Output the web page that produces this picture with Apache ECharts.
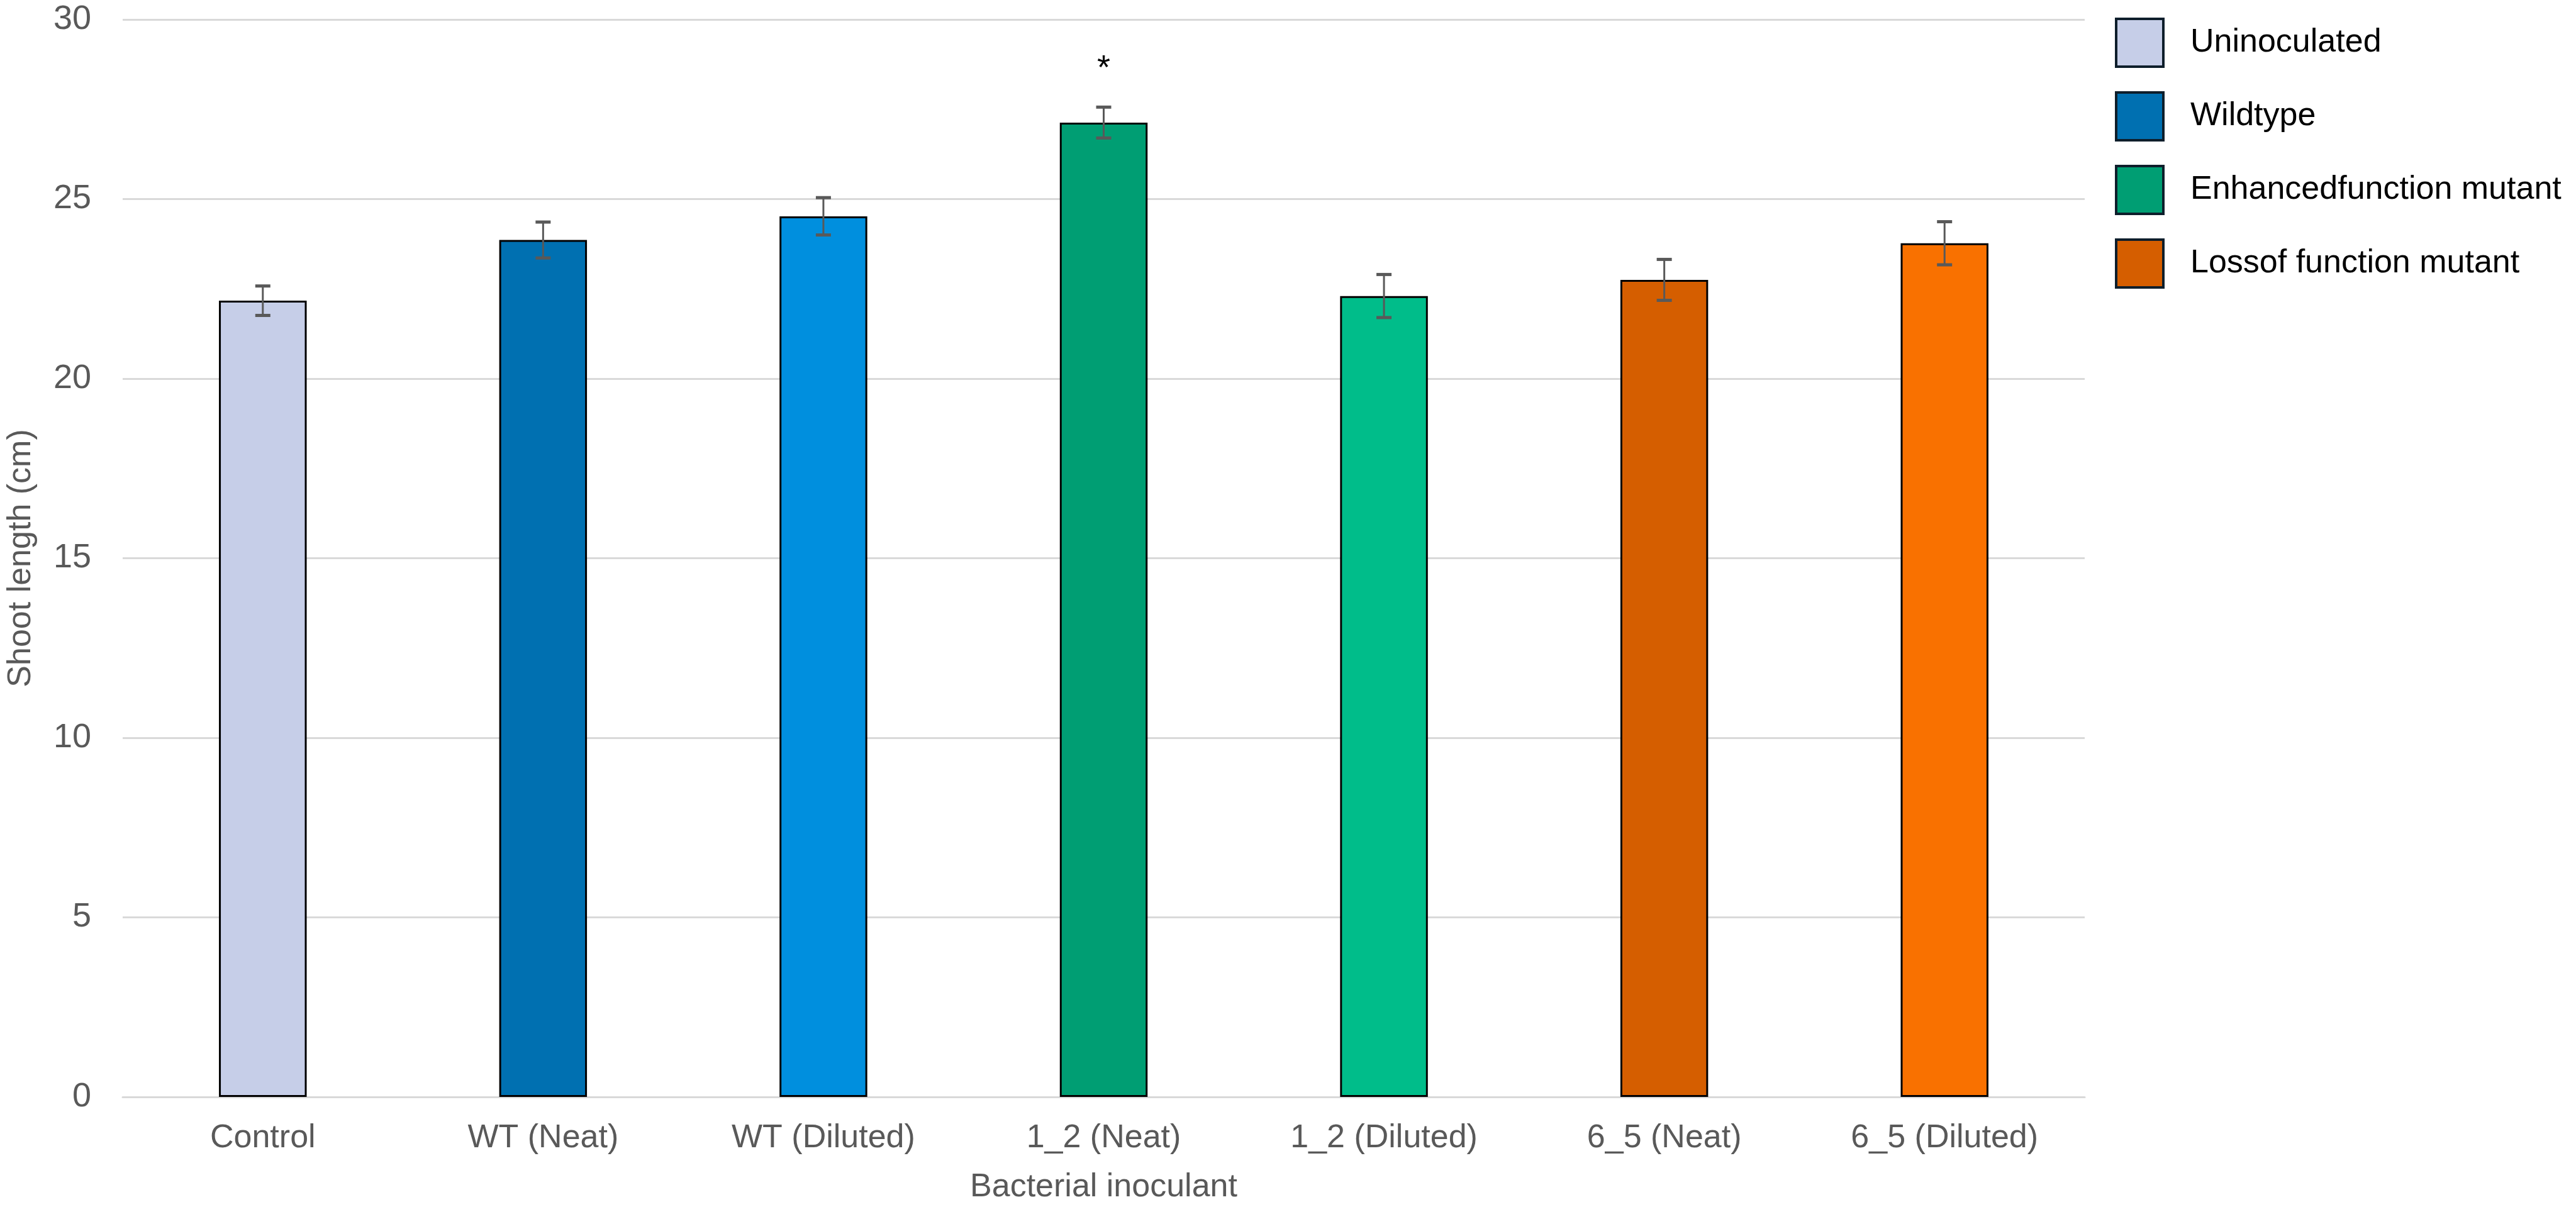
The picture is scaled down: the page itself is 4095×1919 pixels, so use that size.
<!DOCTYPE html>
<html>
<head>
<meta charset="utf-8">
<title>Shoot length by bacterial inoculant</title>
<script src="https://cdn.jsdelivr.net/npm/echarts@6/dist/echarts.min.js"></script>
<style>
  html, body { margin: 0; padding: 0; background: #fff; }
  #chart { width: 4095px; height: 1919px; }
</style>
</head>
<body>
<div id="chart"></div>
<script>
// data
const categories = ['Control', 'WT (Neat)', 'WT (Diluted)', '1_2 (Neat)', '1_2 (Diluted)', '6_5 (Neat)', '6_5 (Diluted)']
const shootLength = [22.17, 23.86, 24.52, 27.13, 22.30, 22.75, 23.77]
const stdError = [0.41, 0.50, 0.52, 0.43, 0.60, 0.57, 0.60]
const significant = [0, 0, 0, 1, 0, 0, 0]
const groupOf = [0, 1, 1, 2, 2, 3, 3]
const groupNames = ['Uninoculated', 'Wildtype', 'Enhancedfunction mutant', 'Lossof function mutant']
const groupColors = ['#C6CEE8', '#0070B1', '#009E73', '#D55E00']
const barColors = ['#C6CEE8', '#0070B1', '#008FDE', '#009E73', '#00BD8A', '#D55E00', '#F97100']
const yTicks = { min: 0, max: 30, interval: 5 }

const FONT = '"Liberation Sans", Arial, sans-serif'
const GREY = '#595959'

const chart = echarts.init(document.getElementById('chart'))

// one series per legend group, all drawn on the same slot
const barSeries = groupNames.map((name, g) => ({
    name: name,
    type: 'bar',
    barWidth: '31.3%',
    barGap: '-100%',
    itemStyle: { color: groupColors[g], borderColor: '#000', borderWidth: 3 },
    data: shootLength.map((v, i) => groupOf[i] === g
        ? { value: v, itemStyle: { color: barColors[i] } }
        : '-')
}))

const errorSeries = {
    name: 'error',
    type: 'custom',
    z: 10,
    data: shootLength.map((v, i) => [i, v - stdError[i], v + stdError[i], significant[i]]),
    renderItem: function (params, api) {
        const lo = api.coord([api.value(0), api.value(1)])
        const hi = api.coord([api.value(0), api.value(2)])
        const cap = 12
        const style = { stroke: GREY, lineWidth: 3 }
        const children = [
            { type: 'line', shape: { x1: hi[0], y1: hi[1], x2: lo[0], y2: lo[1] }, style: style },
            { type: 'line', shape: { x1: hi[0] - cap, y1: hi[1], x2: hi[0] + cap, y2: hi[1] }, style: { stroke: GREY, lineWidth: 5 } },
            { type: 'line', shape: { x1: lo[0] - cap, y1: lo[1], x2: lo[0] + cap, y2: lo[1] }, style: { stroke: GREY, lineWidth: 5 } }
        ]
        if (api.value(3)) {
            children.push({
                type: 'text',
                style: {
                    text: '*', x: hi[0], y: hi[1] - 60,
                    fill: '#000', font: '54px ' + FONT,
                    align: 'center', verticalAlign: 'middle'
                }
            })
        }
        return { type: 'group', children: children }
    }
}

chart.setOption({
    backgroundColor: '#fff',
    animation: false,
    textStyle: { fontFamily: FONT },
    grid: { left: 184, right: 781, top: 31, bottom: 171 },
    legend: {
        data: groupNames,
        orient: 'vertical',
        left: 3362,
        top: 28,
        padding: 0,
        itemWidth: 75,
        itemHeight: 76,
        itemGap: 37,
        icon: 'rect',
        itemStyle: { borderColor: '#0E1E2B', borderWidth: 4 },
        textStyle: { fontSize: 52, color: '#000', fontFamily: FONT, padding: [0, 0, 0, 38] }
    },
    xAxis: {
        type: 'category',
        data: categories,
        name: 'Bacterial inoculant',
        nameLocation: 'middle',
        nameGap: 118,
        nameTextStyle: { fontSize: 52, color: GREY, fontFamily: FONT },
        axisLine: { lineStyle: { color: '#D9D9D9', width: 3 } },
        axisTick: { show: false },
        axisLabel: { fontSize: 52, color: GREY, margin: 40, fontFamily: FONT }
    },
    yAxis: {
        type: 'value',
        min: yTicks.min,
        max: yTicks.max,
        interval: yTicks.interval,
        name: 'Shoot length (cm)',
        nameLocation: 'middle',
        nameGap: 135,
        nameTextStyle: { fontSize: 52, color: GREY, fontFamily: FONT },
        axisLine: { show: false },
        axisTick: { show: false },
        axisLabel: { fontSize: 54, color: GREY, margin: 50, fontFamily: FONT },
        splitLine: { lineStyle: { color: '#D9D9D9', width: 3 } }
    },
    series: barSeries.concat([errorSeries])
})
</script>
</body>
</html>
